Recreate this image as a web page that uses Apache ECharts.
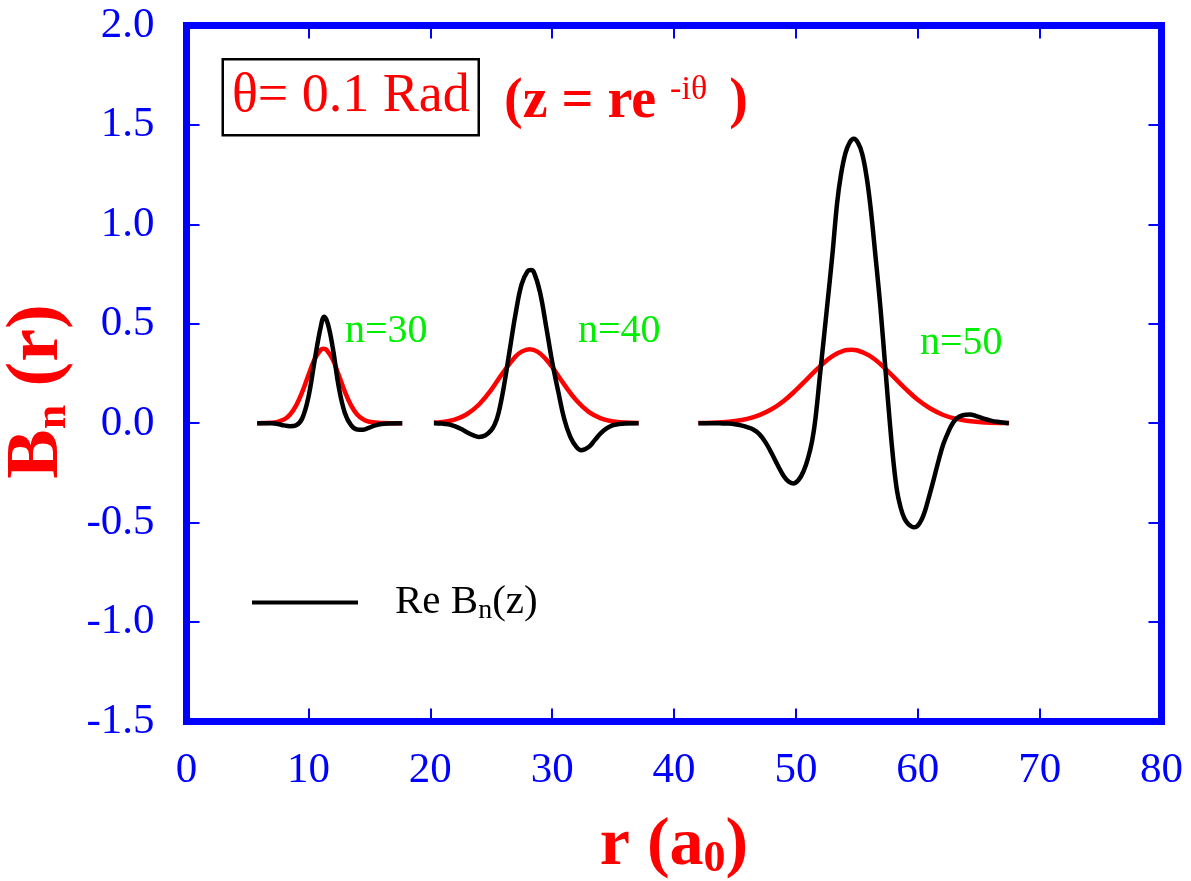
<!DOCTYPE html>
<html>
<head>
<meta charset="utf-8">
<title>Bn(r), θ = 0.1 rad</title>
<script src="https://cdn.jsdelivr.net/npm/echarts@6/dist/echarts.min.js"></script>
<style>
  html, body { margin: 0; padding: 0; background: #ffffff; }
  #chart { width: 1191px; height: 881px; }
</style>
</head>
<body>
<div id="chart"></div>
<script>
// ---- axis ranges and tick steps ----
const rRange = [0, 80];
const rStep = 10;
const bRange = [-1.5, 2.0];
const bStep = 0.5;

// ---- Bn(r) on the real axis (red), [r in a0, value] ----
const bnR30 = [[5.8,0],[7,0.002],[8,0.019],[8.5,0.044],[9,0.09],[9.5,0.158],[10,0.241],[10.5,0.32],[11,0.368],[11.25,0.375],[11.5,0.368],[12,0.32],[12.5,0.241],[13,0.158],[13.5,0.09],[14,0.044],[14.5,0.019],[15,0.007],[16,0.001],[17.7,0]];
const bnR40 = [[20.3,0.003],[21,0.006],[22,0.018],[23,0.045],[24,0.094],[25,0.168],[26,0.257],[27,0.335],[27.5,0.36],[28.15,0.372],[28.8,0.36],[29.5,0.321],[30,0.283],[31,0.194],[32,0.114],[33,0.057],[34,0.024],[35,0.009],[36,0.003],[37.1,0.001]];
const bnR50 = [[42,0.001],[44,0.005],[45,0.011],[46,0.022],[47,0.041],[48,0.07],[49,0.112],[50,0.166],[51,0.227],[52,0.287],[53,0.337],[54,0.366],[54.56,0.37],[55,0.367],[56,0.341],[57,0.294],[58,0.234],[59,0.173],[60,0.118],[61,0.075],[62,0.044],[63,0.024],[64,0.012],[65,0.006],[66,0.0025],[67.5,0.001]];

// ---- Re Bn(z), z = r e^{-iθ} (black), [r in a0, value] ----
const reBn30 = [[5.8,0],[7,0],[7.5,-0.004],[8,-0.011],[8.5,-0.015],[9,-0.01],[9.5,0.025],[10,0.13],[10.5,0.31],[11,0.48],[11.3,0.535],[11.6,0.5],[12,0.38],[12.5,0.18],[13,0.05],[13.5,-0.01],[14,-0.032],[14.5,-0.033],[15,-0.022],[15.5,-0.011],[16,-0.004],[16.5,-0.001],[17.7,0]];
const reBn40 = [[20.3,0],[21,-0.002],[21.5,-0.006],[22,-0.015],[22.5,-0.028],[23,-0.045],[23.5,-0.06],[24,-0.069],[24.5,-0.062],[25,-0.035],[25.3,-0.005],[25.6,0.05],[26,0.17],[26.5,0.36],[27,0.55],[27.5,0.7],[28,0.765],[28.25,0.77],[28.5,0.76],[29,0.66],[29.5,0.49],[30,0.31],[30.5,0.16],[31,0.02],[31.5,-0.07],[32,-0.12],[32.4,-0.136],[33,-0.12],[33.5,-0.085],[34,-0.05],[34.5,-0.025],[35,-0.01],[35.5,-0.004],[36,-0.001],[37.1,0]];
const reBn50 = [[42,0],[43,0],[44,-0.001],[44.5,-0.002],[45,-0.005],[45.5,-0.011],[46,-0.02],[46.5,-0.032],[47,-0.055],[47.5,-0.095],[48,-0.15],[48.5,-0.21],[49,-0.265],[49.4,-0.293],[49.77,-0.303],[50.2,-0.287],[50.64,-0.24],[51,-0.175],[51.33,-0.09],[51.6,0.02],[52,0.255],[52.56,0.585],[53,0.85],[53.38,1.105],[53.7,1.25],[54.06,1.357],[54.4,1.41],[54.75,1.43],[55.1,1.41],[55.44,1.355],[55.8,1.24],[56.12,1.09],[56.5,0.86],[56.94,0.58],[57.35,0.27],[57.7,0.01],[58,-0.19],[58.3,-0.34],[58.6,-0.425],[58.9,-0.478],[59.2,-0.506],[59.5,-0.52],[59.73,-0.523],[60,-0.515],[60.3,-0.487],[60.6,-0.44],[60.9,-0.375],[61.3,-0.285],[61.7,-0.19],[62.1,-0.105],[62.5,-0.045],[62.82,-0.005],[63.2,0.025],[63.7,0.04],[64.27,0.044],[64.8,0.036],[65.42,0.023],[66,0.013],[66.52,0.007],[67.47,0]];

// ---- texts ----
const orderLabels = ['n=30', 'n=40', 'n=50'];
const angleText = 'θ= 0.1 Rad';
const legendName = 'Re Bn(z)';

const SERIF = '"Liberation Serif", "Times New Roman", serif';
const BLUE = '#0000ff';
const RED = '#ff0000';
const GREEN = '#00ee00';

const chart = echarts.init(document.getElementById('chart'), null, { renderer: 'canvas' });

function curve(name, data, color) {
  return {
    name: name,
    type: 'line',
    data: data,
    showSymbol: false,
    symbol: 'none',
    smooth: 0.4,
    lineStyle: { color: color, width: 4.5 },
    itemStyle: { color: color },
    emphasis: { disabled: true },
    z: color === '#000000' ? 3 : 2
  };
}

const tickStyle = { show: true, inside: true, length: 13, lineStyle: { color: BLUE, width: 2 } };
const hiddenLine = { show: false, onZero: false };

const option = {
  backgroundColor: '#ffffff',
  animation: false,
  grid: {
    left: 186.5, right: 29.5, top: 25.5, bottom: 159.5,
    containLabel: false, outerBoundsMode: 'none',
    show: true, borderColor: BLUE, borderWidth: 7, backgroundColor: 'transparent'
  },
  xAxis: [
    {
      type: 'value', min: rRange[0], max: rRange[1], interval: rStep, position: 'bottom',
      axisLine: hiddenLine, splitLine: { show: false }, axisTick: tickStyle,
      axisLabel: { color: BLUE, fontFamily: SERIF, fontSize: 43, margin: 28 },
      name: '{m|r (a}{s|0}{m|)}', nameLocation: 'middle', nameGap: 90,
      nameTextStyle: {
        rich: {
          m: { fontFamily: SERIF, fontSize: 68, fontWeight: 'bold', color: RED, lineHeight: 70 },
          s: { fontFamily: SERIF, fontSize: 44, fontWeight: 'bold', color: RED, lineHeight: 34, verticalAlign: 'bottom' }
        }
      }
    },
    {
      type: 'value', min: rRange[0], max: rRange[1], interval: rStep, position: 'top',
      axisLine: hiddenLine, splitLine: { show: false }, axisTick: tickStyle,
      axisLabel: { show: false }
    }
  ],
  yAxis: [
    {
      type: 'value', min: bRange[0], max: bRange[1], interval: bStep, position: 'left',
      axisLine: hiddenLine, splitLine: { show: false }, axisTick: tickStyle,
      axisLabel: { color: BLUE, fontFamily: SERIF, fontSize: 43, margin: 32, padding: [5, 0, 0, 0],
        formatter: function (v) { return v.toFixed(1); } },
      name: '{m|B}{s|n}{m| (r)}', nameLocation: 'middle', nameGap: 105, nameRotate: 90,
      nameTextStyle: {
        padding: [0, 36, 0, 0],
        rich: {
          m: { fontFamily: SERIF, fontSize: 74, fontWeight: 'bold', color: RED, lineHeight: 76 },
          s: { fontFamily: SERIF, fontSize: 44, fontWeight: 'bold', color: RED, lineHeight: 34, verticalAlign: 'bottom' }
        }
      }
    },
    {
      type: 'value', min: bRange[0], max: bRange[1], interval: bStep, position: 'right',
      axisLine: hiddenLine, splitLine: { show: false }, axisTick: tickStyle,
      axisLabel: { show: false }
    }
  ],
  legend: {
    data: [legendName],
    left: 252, top: 582, padding: 0,
    itemWidth: 106, itemHeight: 20,
    selectedMode: false,
    icon: 'path://M0,8 L106,8 L106,12 L0,12 Z',
    itemStyle: { color: '#000000' },
    formatter: function () { return '{m|Re B}{s|n}{m|(z)}'; },
    textStyle: {
      rich: {
        m: { fontFamily: SERIF, fontSize: 41, color: '#000000', lineHeight: 44 },
        s: { fontFamily: SERIF, fontSize: 28, color: '#000000', lineHeight: 28, verticalAlign: 'bottom' }
      },
      padding: [0, 0, 0, 32]
    }
  },
  graphic: [
    { type: 'rect', left: 221.5, top: 58, shape: { width: 256, height: 76 },
      style: { fill: 'transparent', stroke: '#000000', lineWidth: 2.5 }, z: 10 },
    { type: 'text', x: 232, y: 96.5, z: 10,
      style: { text: angleText, fill: RED, font: '54px ' + SERIF, textVerticalAlign: 'middle', textAlign: 'left' } },
    { type: 'text', x: 504, y: 103, z: 10,
      style: {
        text: '{m|(z = re }{p|-iθ}{q|)}', textVerticalAlign: 'middle', textAlign: 'left',
        rich: {
          m: { fontFamily: SERIF, fontSize: 56, fontWeight: 'bold', fill: RED, lineHeight: 60 },
          p: { fontFamily: SERIF, fontSize: 34, fill: RED, lineHeight: 34, verticalAlign: 'top' },
          q: { fontFamily: SERIF, fontSize: 56, fontWeight: 'bold', fill: RED, lineHeight: 60, padding: [0, 0, 0, 22] }
        }
      } },
    { type: 'text', x: 345, y: 331, z: 10,
      style: { text: orderLabels[0], fill: GREEN, font: '40px ' + SERIF, textVerticalAlign: 'middle' } },
    { type: 'text', x: 578, y: 331, z: 10,
      style: { text: orderLabels[1], fill: GREEN, font: '40px ' + SERIF, textVerticalAlign: 'middle' } },
    { type: 'text', x: 920, y: 343, z: 10,
      style: { text: orderLabels[2], fill: GREEN, font: '40px ' + SERIF, textVerticalAlign: 'middle' } }
  ],
  series: [
    curve('Bn(r) n=30', bnR30, '#ff0000'),
    curve('Bn(r) n=40', bnR40, '#ff0000'),
    curve('Bn(r) n=50', bnR50, '#ff0000'),
    curve(legendName, reBn30, '#000000'),
    curve(legendName, reBn40, '#000000'),
    curve(legendName, reBn50, '#000000')
  ]
};

chart.setOption(option);
</script>
</body>
</html>
